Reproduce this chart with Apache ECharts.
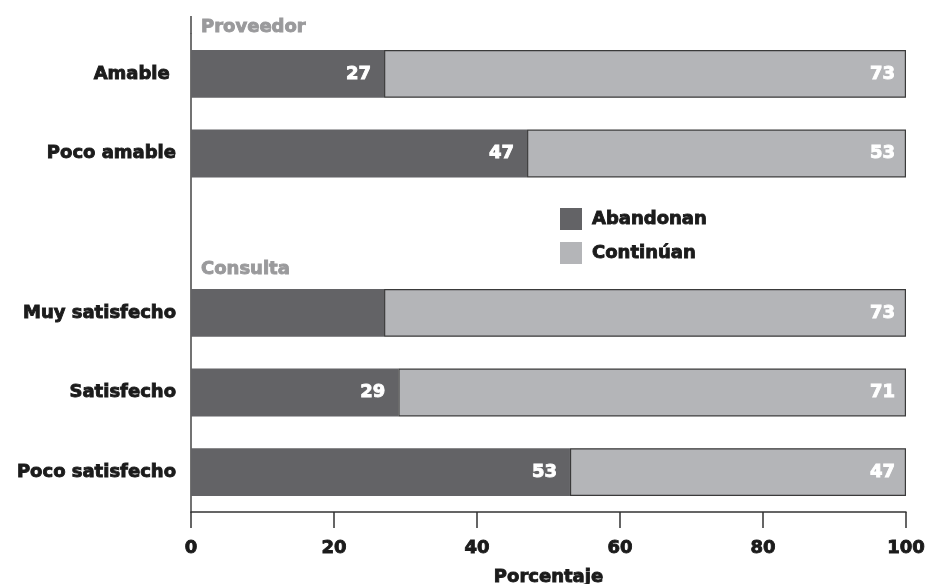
<!DOCTYPE html>
<html>
<head>
<meta charset="utf-8">
<script src="https://cdn.jsdelivr.net/npm/echarts@6/dist/echarts.min.js"></script>
<style>
  html, body { margin: 0; padding: 0; background: #ffffff; }
  #chart { width: 928px; height: 584px; }
</style>
</head>
<body>
<div id="chart"></div>
<script>
// Categories from top to bottom; the empty entry separates the two groups.
const categories = ['Amable ', 'Poco amable', '', 'Muy satisfecho', 'Satisfecho', 'Poco satisfecho'];
const abandonan = [27, 47, null, 27, 29, 53];
const continuan = [73, 53, null, 73, 71, 47];
// Which "Abandonan" segments carry a printed value.
const abandonanLabelShown = [true, true, false, false, true, true];
const xTicks = [0, 20, 40, 60, 80, 100];
const groupTitles = ['Proveedor', 'Consulta'];

const FONT = '"DejaVu Sans", "Liberation Sans", sans-serif';
const DARK = '#636366';
const LIGHT = '#b4b5b8';
const INK = '#1b1b1b';
const GREY_TITLE = '#9a9a9c';

// Heavy text: bold face with a thin outline of the same colour.
function heavy(color, size) {
  return { color: color, fontSize: size, fontWeight: 'bold', fontFamily: FONT,
           textBorderColor: color, textBorderWidth: 0.9 };
}

const chart = echarts.init(document.getElementById('chart'));

const option = {
  animation: false,
  textStyle: { fontFamily: FONT },
  grid: { left: 191, right: 22, top: 34, bottom: 72, containLabel: false, outerBoundsMode: 'none' },
  title: [
    { text: groupTitles[0], left: 201, top: 18, padding: 0, textStyle: heavy(GREY_TITLE, 18) },
    { text: groupTitles[1], left: 201, top: 260, padding: 0, textStyle: heavy(GREY_TITLE, 18) }
  ],
  legend: {
    orient: 'vertical', left: 555, top: 203,
    itemWidth: 22, itemHeight: 22, itemGap: 12,
    icon: 'rect',
    textStyle: Object.assign(heavy(INK, 18), { padding: [0, 0, 0, 5] }),
    data: [
      { name: 'Abandonan', itemStyle: { color: DARK, borderWidth: 0 } },
      { name: 'Continúan', itemStyle: { color: LIGHT, borderWidth: 0 } }
    ]
  },
  xAxis: {
    type: 'value', min: xTicks[0], max: xTicks[xTicks.length - 1], interval: 20,
    name: 'Porcentaje', nameLocation: 'middle', nameGap: 56,
    nameTextStyle: heavy(INK, 18),
    axisLine: { show: true, lineStyle: { color: '#333', width: 1.5 } },
    axisTick: { show: true, length: 16, lineStyle: { color: '#333', width: 1.5 } },
    axisLabel: Object.assign(heavy(INK, 18), { margin: 27 }),
    splitLine: { show: false }
  },
  yAxis: {
    type: 'category', inverse: true, data: categories,
    axisLine: { show: true, lineStyle: { color: '#444', width: 1.5 } },
    axisTick: { show: false },
    axisLabel: Object.assign(heavy(INK, 18), { margin: 15 })
  },
  series: [
    {
      name: 'Abandonan', type: 'bar', stack: 'total', barWidth: '60%',
      itemStyle: { color: DARK, borderWidth: 0 },
      label: Object.assign(heavy('#ffffff', 18), { show: true, position: 'insideRight', distance: 13 }),
      data: abandonan.map((v, i) => ({ value: v, label: { show: abandonanLabelShown[i] } }))
    },
    {
      name: 'Continúan', type: 'bar', stack: 'total', barWidth: '60%',
      itemStyle: { color: LIGHT, borderColor: '#3a3a3a', borderWidth: 1.2 },
      label: Object.assign(heavy('#ffffff', 18), { show: true, position: 'insideRight', distance: 11 }),
      data: continuan
    }
  ]
};

chart.setOption(option);

// Extend the vertical axis line above the plotting area, up to the group title.
const gridRect = chart.getModel().getComponent('grid', 0).coordinateSystem.getRect();
chart.setOption({
  graphic: [{
    type: 'line', silent: true,
    shape: { x1: gridRect.x, y1: gridRect.y - 18, x2: gridRect.x, y2: gridRect.y },
    style: { stroke: '#444', lineWidth: 1.5 }
  }]
});
</script>
</body>
</html>
